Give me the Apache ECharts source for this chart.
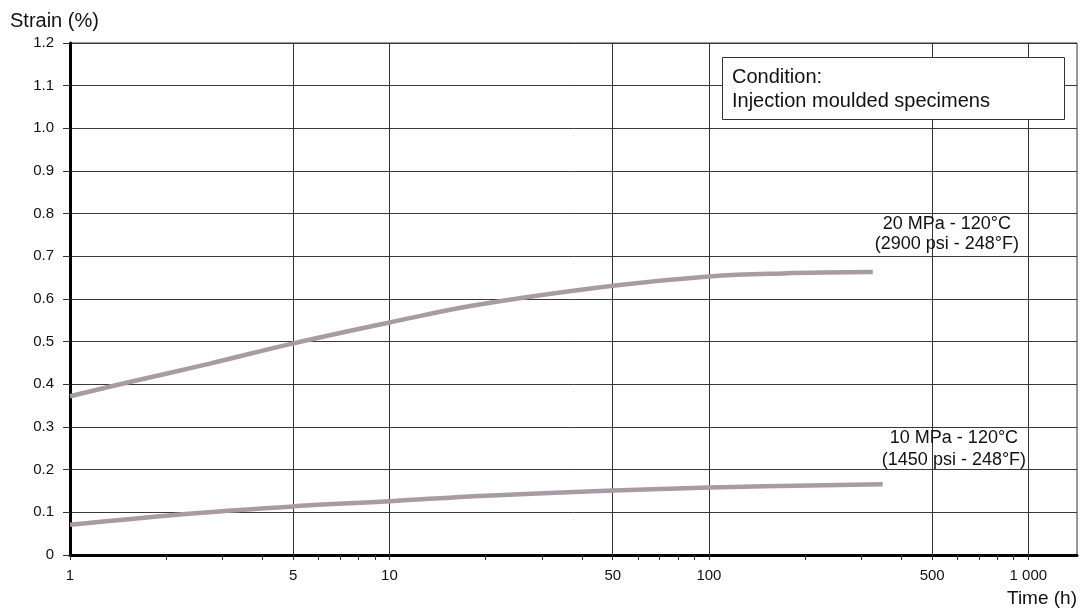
<!DOCTYPE html>
<html>
<head>
<meta charset="utf-8">
<script src="https://cdn.jsdelivr.net/npm/echarts@6/dist/echarts.min.js"></script>
<style>
html,body{margin:0;padding:0;background:#fff;}
#chart{width:1083px;height:615px;}
</style>
</head>
<body>
<div id="chart"></div>
<script>
// ---- data ----
const time20 = [1, 1.49, 2.72, 5, 10, 19.1, 50, 100, 170, 326];
const strain20 = [0.372, 0.403, 0.448, 0.496, 0.545, 0.587, 0.631, 0.653, 0.660, 0.663];
const time10 = [1, 2.47, 5, 10, 20, 50, 100, 350];
const strain10 = [0.071, 0.098, 0.114, 0.126, 0.139, 0.151, 0.158, 0.166];
const xLabelValues = [1, 5, 10, 50, 100, 500, 1000];
const xGridValues = [5, 10, 50, 100, 500, 1000];
const xTickValues = [1,2,3,4,5,6,7,8,9,10,20,30,40,50,60,70,80,90,100,200,300,400,500,600,700,800,900,1000];
const label20 = ['20 MPa - 120°C', '(2900 psi - 248°F)'];
const label10 = ['10 MPa - 120°C', '(1450 psi - 248°F)'];
const label20Pos = [556, 0.753];
const label10Pos = [585, 0.249];
const conditionText = ['Condition:', 'Injection moulded specimens'];

const FONT = '"Liberation Sans", Arial, Helvetica, sans-serif';
const lineColor = '#a89ba3';

function zip(xs, ys){ return xs.map((x,i)=>[x, ys[i]]); }

function textMark(lines, pos, lh){
  return {
    symbol: 'circle', symbolSize: 1, silent: true,
    itemStyle: {color: 'rgba(0,0,0,0)'},
    label: {show: true, position: 'inside', formatter: lines.join('\n'), fontFamily: FONT, fontSize: 18, lineHeight: lh, color: '#111', align: 'center', verticalAlign: 'middle'},
    data: [{coord: pos}]
  };
}

const chart = echarts.init(document.getElementById('chart'), null, {renderer:'canvas'});
chart.setOption({
  animation: false,
  backgroundColor: '#fff',
  textStyle: {fontFamily: FONT},
  grid: {left: 70, right: 6, top: 43, bottom: 60, show: true, borderColor: '#333', borderWidth: 1, backgroundColor: 'transparent'},
  xAxis: {
    type: 'log', logBase: 10, min: 1, max: 1420,
    name: 'Time (h)', nameLocation: 'end', nameGap: 0,
    nameTextStyle: {fontFamily: FONT, fontSize: 19, color: '#111', align: 'right', verticalAlign: 'top', padding: [34, 0, 0, 0]},
    axisLine: {show: true, onZero: false, lineStyle: {color: '#000', width: 3}},
    axisTick: {show: true, length: 5, customValues: xTickValues, lineStyle: {color: '#333', width: 1}},
    minorTick: {show: false},
    axisLabel: {
      customValues: xLabelValues, margin: 13, fontFamily: FONT, fontSize: 15, color: '#111',
      formatter: v => v >= 1000 ? '1 000' : String(v)
    },
    splitLine: {show: false}
  },
  yAxis: {
    type: 'value', min: 0, max: 1.2, interval: 0.1,
    name: 'Strain (%)', nameLocation: 'end', nameGap: 14,
    nameTextStyle: {fontFamily: FONT, fontSize: 20, color: '#111', align: 'left', padding: [0, 0, -2, -60]},
    axisLine: {show: true, lineStyle: {color: '#000', width: 3}},
    axisTick: {show: true, length: 7, lineStyle: {color: '#333', width: 1}},
    axisLabel: {margin: 16, fontFamily: FONT, fontSize: 15, color: '#111',
      formatter: v => v === 0 ? '0' : v.toFixed(1)},
    splitLine: {show: true, lineStyle: {color: '#3a3a3a', width: 1}}
  },
  series: [
    {
      name: '20 MPa', type: 'line', data: zip(time20, strain20), smooth: 0.4,
      symbol: 'none', lineStyle: {color: lineColor, width: 4.5}, z: 5,
      markLine: {
        silent: true, symbol: 'none', animation: false,
        lineStyle: {color: '#333', width: 1, type: 'solid'},
        label: {show: false},
        data: xGridValues.map(v => ({xAxis: v}))
      },
      markPoint: textMark(label20, label20Pos, 20)
    },
    {
      name: '10 MPa', type: 'line', data: zip(time10, strain10), smooth: 0.4,
      symbol: 'none', lineStyle: {color: lineColor, width: 4.5}, z: 5,
      markPoint: textMark(label10, label10Pos, 22)
    }
  ],
  graphic: [
    {
      type: 'rect', left: 722, top: 57, z: 100,
      shape: {width: 342, height: 62},
      style: {fill: '#fff', stroke: '#333', lineWidth: 1}
    },
    {
      type: 'text', left: 732, top: 65, z: 101,
      style: {text: conditionText.join('\n'), font: '20px ' + FONT, lineHeight: 24, fill: '#111'}
    }
  ]
});
</script>
</body>
</html>
